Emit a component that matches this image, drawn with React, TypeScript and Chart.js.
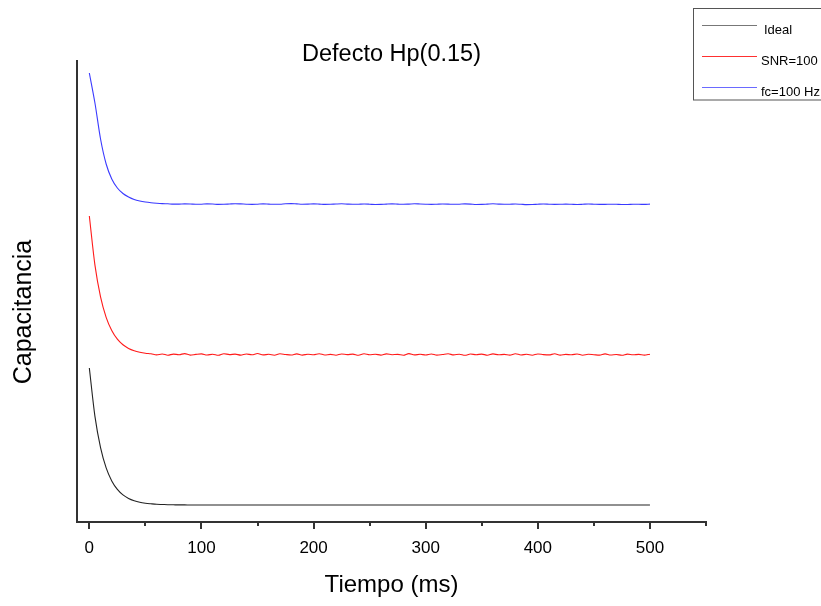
import React, { useEffect, useRef } from "react";
import { Chart, registerables } from "chart.js";
Chart.register(...registerables);

const times = [
  0, 5, 10, 15, 20, 25, 30, 35, 40, 45, 50, 55, 60, 65, 70, 75, 80, 85, 90, 95,
  100, 105, 110, 115, 120, 125, 130, 135, 140, 145, 150, 155, 160, 165, 170, 175, 180, 185, 190, 195,
  200, 205, 210, 215, 220, 225, 230, 235, 240, 245, 250, 255, 260, 265, 270, 275, 280, 285, 290, 295,
  300, 305, 310, 315, 320, 325, 330, 335, 340, 345, 350, 355, 360, 365, 370, 375, 380, 385, 390, 395,
  400, 405, 410, 415, 420, 425, 430, 435, 440, 445, 450, 455, 460, 465, 470, 475, 480, 485, 490, 495,
  500,
];

const ideal = [
  154, 105.6, 74.4, 54.1, 41.1, 32.6, 27.1, 23.5, 21.2, 19.7, 18.8, 18.2, 17.7, 17.5, 17.3, 17.2, 17.1, 17.1, 17,
  17, 17, 17, 17, 17, 17, 17, 17, 17, 17, 17, 17, 17, 17, 17, 17, 17, 17, 17, 17, 17, 17,
  17, 17, 17, 17, 17, 17, 17, 17, 17, 17, 17, 17, 17, 17, 17, 17, 17, 17, 17, 17, 17, 17,
  17, 17, 17, 17, 17, 17, 17, 17, 17, 17, 17, 17, 17, 17, 17, 17, 17, 17, 17, 17, 17, 17,
  17, 17, 17, 17, 17, 17, 17, 17, 17, 17, 17, 17, 17, 17, 17, 17, 17, 17, 17, 17,
];

const snr100 = [
  306, 256.9, 225.2, 204.7, 191.5, 182.8, 177.2, 173.6, 171.3, 169.8, 168.8,
  168.2, 167.1, 168.0, 166.8, 167.9, 167.3, 168.4, 166.9, 167.6, 168.1,
  167.0, 167.8, 166.7, 168.3, 167.4, 167.9, 166.9, 168.0, 167.2, 168.5,
  167.1, 167.7, 166.8, 168.2, 167.5, 167.0, 168.1, 166.9, 167.8, 167.3,
  168.3, 167.0, 167.6, 166.8, 168.0, 167.4, 167.9, 166.7, 168.2, 167.2,
  167.8, 166.9, 168.1, 167.3, 167.6, 166.8, 168.4, 167.1, 167.7, 167.0,
  168.0, 166.9, 167.5, 168.2, 167.1, 167.8, 166.7, 168.0, 167.3, 167.9,
  166.8, 168.1, 167.2, 167.6, 166.9, 168.3, 167.0, 167.7, 166.8, 168.0,
  167.4, 167.1, 168.2, 166.9, 167.6, 167.2, 168.0, 166.8, 167.7, 167.3,
  166.9, 168.1, 167.0, 167.5, 166.7, 167.9, 167.2, 167.6, 166.9, 167.8,
];

const fc100 = [
  449, 419, 383, 358, 343, 334, 328.5, 325, 322.5, 321, 320, 319.3, 318.8,
  318.4, 318.2, 317.9, 317.9, 318.1, 318.0, 317.7, 317.8, 318.1, 318.0,
  317.6, 317.7, 318.0, 318.3, 318.1, 317.8, 317.6, 317.8, 318.1, 317.9,
  317.7, 317.8, 318.2, 318.4, 318.1, 317.8, 317.9, 318.1, 317.9, 317.6,
  317.7, 318.0, 318.2, 317.9, 317.7, 317.8, 318.0, 317.8, 317.5, 317.6,
  317.9, 318.1, 317.9, 317.7, 317.9, 318.2, 318.0, 317.8, 317.6, 317.8,
  318.0, 317.9, 317.7, 317.8, 318.1, 317.9, 317.5, 317.6, 317.9, 318.2,
  317.9, 317.7, 317.8, 318.0, 317.7, 317.4, 317.5, 317.8, 318.0, 317.8,
  317.6, 317.7, 317.9, 317.7, 317.5, 317.7, 318.0, 317.8, 317.6, 317.6,
  317.8, 317.7, 317.5, 317.5, 317.7, 317.7, 317.6, 317.9,
];

const seriesLabels = ["Ideal", "SNR=100", "fc=100 Hz"];
const seriesColors = ["#222222", "#ff1a1a", "#3a3aff"];
const legendColors = ["#777777", "#ff3030", "#6a6aff"];
const xTicks = [0, 100, 200, 300, 400, 500];
const xMinorTicks = [50, 150, 250, 350, 450, 550];
const chartTitle = "Defecto Hp(0.15)";
const xTitle = "Tiempo (ms)";
const yTitle = "Capacitancia";

const FONT = '"Liberation Sans", Arial, sans-serif';

const overlay = {
  id: "overlay",
  afterDraw(chart: any) {
    const { ctx, chartArea: a, scales } = chart;
    const x = scales.x;
    ctx.save();
    ctx.strokeStyle = "#333";
    ctx.lineWidth = 2;
    xTicks.forEach((v) => {
      const px = Math.round(x.getPixelForValue(v));
      ctx.beginPath();
      ctx.moveTo(px, a.bottom);
      ctx.lineTo(px, a.bottom + 7);
      ctx.stroke();
    });
    xMinorTicks.forEach((v) => {
      const px = Math.round(x.getPixelForValue(v));
      ctx.beginPath();
      ctx.moveTo(px, a.bottom);
      ctx.lineTo(px, a.bottom + 4);
      ctx.stroke();
    });

    ctx.fillStyle = "#000";
    ctx.textAlign = "center";
    ctx.textBaseline = "middle";
    ctx.font = `23.5px ${FONT}`;
    ctx.fillText(chartTitle, (a.left + a.right) / 2, 55);
    ctx.font = `24px ${FONT}`;
    ctx.fillText(xTitle, (a.left + a.right) / 2, 585);
    ctx.save();
    ctx.translate(24, 312);
    ctx.rotate(-Math.PI / 2);
    ctx.font = `25px ${FONT}`;
    ctx.fillText(yTitle, 0, 0);
    ctx.restore();

    // legend
    ctx.strokeStyle = "#555";
    ctx.lineWidth = 1;
    ctx.strokeRect(693.5, 8.5, 150, 91.5);
    const ys = [25, 56, 87];
    const tx = [764, 761, 761];
    ctx.font = `13px ${FONT}`;
    ctx.textAlign = "left";
    chart.data.datasets.forEach((ds: any, i: number) => {
      ctx.strokeStyle = legendColors[i];
      ctx.lineWidth = 1;
      ctx.beginPath();
      ctx.moveTo(702, ys[i] + 0.5);
      ctx.lineTo(757, ys[i] + 0.5);
      ctx.stroke();
      ctx.fillStyle = "#000";
      ctx.fillText(ds.label, tx[i], ys[i] + 5);
    });
    ctx.restore();
  },
};

export default function App() {
  const ref = useRef<HTMLCanvasElement | null>(null);
  useEffect(() => {
    if (!ref.current) return;
    const series = [ideal, snr100, fc100];
    const chart = new Chart(ref.current, {
      type: "line",
      data: {
        datasets: series.map((vals, i) => ({
          label: seriesLabels[i],
          data: times.map((t, j) => ({ x: t, y: vals[j] })),
          borderColor: seriesColors[i],
          borderWidth: 1.1,
          pointRadius: 0,
          cubicInterpolationMode: "monotone" as const,
          fill: false,
        })),
      },
      options: {
        animation: false,
        responsive: false,
        devicePixelRatio: 1,
        layout: { padding: { left: 77, top: 61, right: 115, bottom: 0 } },
        plugins: {
          legend: { display: false },
          title: { display: false },
          tooltip: { enabled: false },
        },
        scales: {
          x: {
            type: "linear",
            min: -11,
            max: 550,
            afterBuildTicks: (s: any) => {
              s.ticks = xTicks.map((v) => ({ value: v }));
            },
            afterFit: (s: any) => {
              s.height = 84;
            },
            grid: { display: false, drawTicks: false },
            border: { display: true, color: "#333", width: 2 },
            ticks: {
              color: "#000",
              padding: 16,
              maxRotation: 0,
              font: { size: 17, family: FONT },
            },
          },
          y: {
            type: "linear",
            min: 0,
            max: 461,
            afterFit: (s: any) => {
              s.width = 0;
            },
            grid: { display: false, drawTicks: false },
            border: { display: true, color: "#333", width: 2 },
            ticks: { display: false },
          },
        },
      },
      plugins: [overlay],
    });
    return () => chart.destroy();
  }, []);

  return (
    <div style={{ position: "absolute", left: 0, top: 0, width: 821, height: 606, background: "#fff" }}>
      <canvas ref={ref} width={821} height={606} style={{ width: 821, height: 606 }} />
    </div>
  );
}
